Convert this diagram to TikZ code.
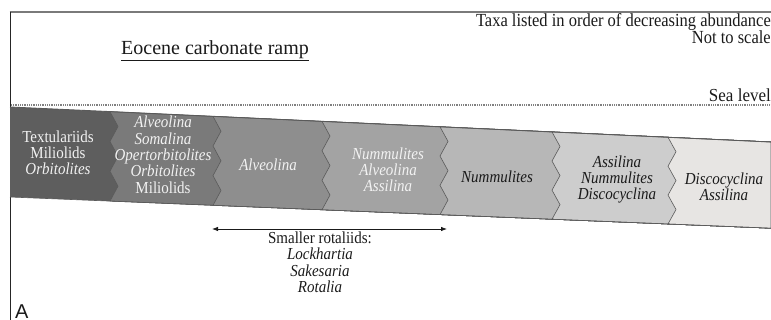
\documentclass[tikz,border=0pt]{standalone}
\usepackage{graphicx}
\usepackage{fontspec}
\setmainfont{Liberation Serif}
\newfontfamily\labelsans{Liberation Sans}
\usetikzlibrary{arrows.meta}
\definecolor{zoneA}{HTML}{5E5E5E}
\definecolor{zoneB}{HTML}{7A7A7A}
\definecolor{zoneC}{HTML}{8E8E8E}
\definecolor{zoneD}{HTML}{A3A3A3}
\definecolor{zoneE}{HTML}{B7B7B7}
\definecolor{zoneF}{HTML}{CDCDCD}
\definecolor{zoneG}{HTML}{E7E5E3}
\definecolor{edgegray}{HTML}{5A5A5A}
\definecolor{framegray}{HTML}{7A7A7A}
\definecolor{whitetxt}{HTML}{F2F2F2}
\definecolor{darktxt}{HTML}{1A1A1A}
\newcommand\tallstack[2][c]{\scalebox{1}[1.12]{\begin{tabular}{@{}#1@{}}#2\end{tabular}}}
\tikzset{
  declare function={ytop(\x)=107+0.046*(\x-10); ybot(\x)=197+0.041*(\x-10);},
  zonetext/.style={inner sep=0pt, font=\fontsize{15}{13.8}\selectfont},
  lighttext/.style={zonetext, text=whitetxt},
  darktext/.style={zonetext, text=darktxt},
  zoneedge/.style={draw=edgegray, line width=0.6pt},
}
\begin{document}
\begin{tikzpicture}[x=1pt,y=-1pt]
\useasboundingbox (0,0) rectangle (771,320);
% frame
\draw[framegray, line width=2pt] (9.5,12.5) -- (771,12.5);
\draw[black!85, line width=1.4pt] (10.5,12) -- (10.5,320);
% sea level
\draw[gray, line width=1.6pt, dash pattern=on 1pt off 0.8pt] (11,105) -- (771,105);
\node[anchor=base east, inner sep=0pt, font=\fontsize{17}{18}\selectfont, text=darktxt] (sealevel) at (771,102) {\scalebox{1}[1.08]{Sea level}};
% header
\node[anchor=north east, inner sep=0pt, font=\fontsize{16.5}{12.2}\selectfont, text=darktxt] (taxa) at (771,13.5) {\tallstack[r]{Taxa listed in order of decreasing abundance\\Not to scale}};
\node[inner sep=0pt, font=\fontsize{20}{22}\selectfont, text=darktxt] (title) at (215,51) {\underline{Eocene carbonate ramp}};
% zones: each drawn from its left zigzag to the right end, later ones cover earlier
\foreach \xb/\col in {10/zoneA,110/zoneB,213/zoneC,322/zoneD,440/zoneE,552/zoneF,668/zoneG}{
  \ifnum\xb=10
    \fill[\col] (10,{ytop(10)}) -- (10,{ybot(10)}) -- (771,{ybot(771)}) -- (771,{ytop(771)}) -- cycle;
  \else
    \filldraw[fill=\col, zoneedge] (\xb,{ytop(\xb)})
      \foreach \k in {1,...,6}{ -- ({\xb+8*mod(\k,2)},{ytop(\xb)+\k/6*(ybot(\xb)-ytop(\xb))}) }
      -- (771,{ybot(771)}) -- (771,{ytop(771)}) -- cycle;
  \fi
}
\draw[edgegray, line width=0.9pt] (10,{ytop(10)}) -- (771,{ytop(771)});
\draw[edgegray, line width=0.6pt] (10,{ybot(10)}) -- (771,{ybot(771)});
% zone texts
\node[lighttext] (z1) at (58,155) {\tallstack{Textulariids\\Miliolids\\\textit{Orbitolites}}};
\node[lighttext] (z2) at (163,157) {\tallstack{\textit{Alveolina}\\\textit{Somalina}\\\textit{Opertorbitolites}\\\textit{Orbitolites}\\Miliolids}};
\node[lighttext] (z3) at (268,167) {\tallstack{\textit{Alveolina}}};
\node[lighttext] (z4) at (388,172) {\tallstack{\textit{Nummulites}\\\textit{Alveolina}\\\textit{Assilina}}};
\node[darktext] (z5) at (497,179) {\tallstack{\textit{Nummulites}}};
\node[darktext] (z6) at (617,180) {\tallstack{\textit{Assilina}\\\textit{Nummulites}\\\textit{Discocyclina}}};
\node[darktext] (z7) at (724,189) {\tallstack{\textit{Discocyclina}\\\textit{Assilina}}};
% rotaliids range
\coordinate (arL) at (212,229);
\coordinate (arR) at (447,229);
\draw[darktxt, line width=0.8pt, {Latex[length=6pt,width=4.5pt]}-{Latex[length=6pt,width=4.5pt]}] (arL) -- (arR);
\node[darktext] (rot) at (320,264.5) {\tallstack{Smaller rotaliids:\\\textit{Lockhartia}\\\textit{Sakesaria}\\\textit{Rotalia}}};
% panel letter
\node[anchor=south west, inner sep=0pt, font=\labelsans\fontsize{20}{24}\selectfont, text=darktxt] (panelA) at (15,319) {A};
\end{tikzpicture}
\end{document}
